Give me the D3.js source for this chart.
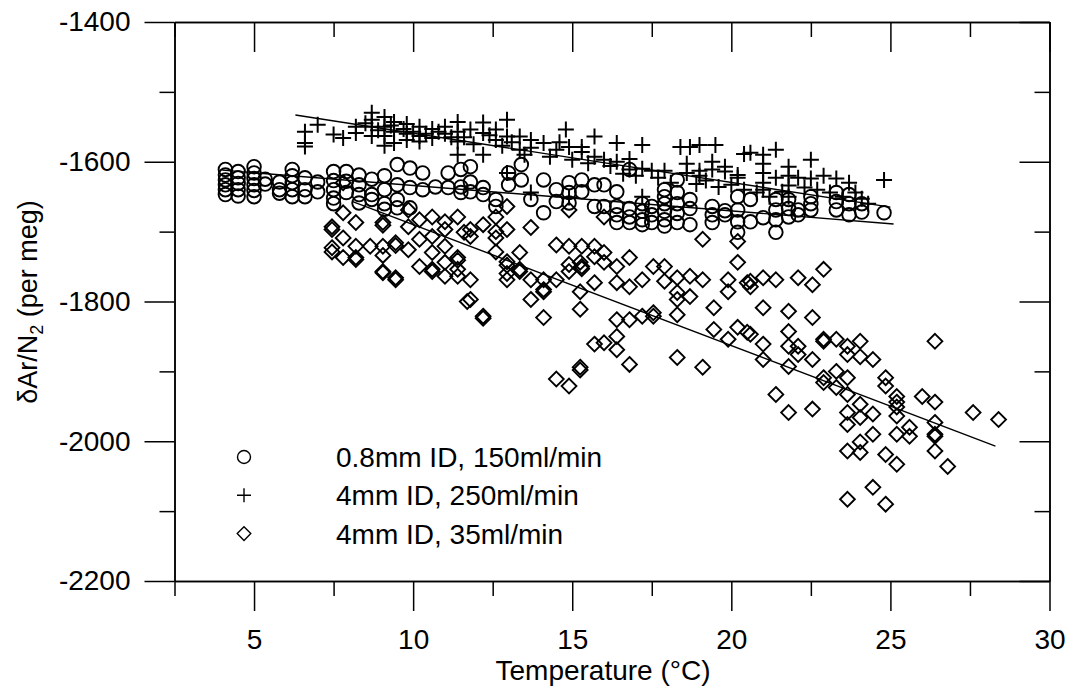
<!DOCTYPE html>
<html>
<head>
<meta charset="utf-8">
<script src="https://cdn.jsdelivr.net/npm/d3@7"></script>
<style>
  body { margin: 0; background: #fff; }
  svg text { font-family: "Liberation Sans", Arial, sans-serif; fill: #000; }
</style>
</head>
<body>
<svg id="chart" width="1067" height="686"></svg>
<script>
// series: [temperature (°C), dAr/N2 (per meg)]
var circleData = [
  [4.1,-1611],[4.1,-1619],[4.1,-1626],[4.1,-1633],[4.1,-1640],[4.1,-1647],
  [4.5,-1614],[4.5,-1623],[4.5,-1631],[4.5,-1640],[4.5,-1649],
  [5.0,-1607],[5.0,-1616],[5.0,-1624],[5.0,-1633],[5.0,-1641],[5.0,-1650],
  [5.35,-1625],[5.35,-1632],[5.8,-1629],[5.8,-1640],[5.8,-1645],
  [6.2,-1611],[6.2,-1620],[6.2,-1630],[6.2,-1640],[6.2,-1650],
  [6.6,-1623],[6.6,-1640],[6.6,-1650],[7.0,-1629],[7.0,-1643],
  [7.5,-1614],[7.5,-1627],[7.5,-1640],[7.5,-1652],[7.5,-1660],
  [7.9,-1614],[7.9,-1628],[7.9,-1644],
  [8.3,-1619],[8.3,-1633],[8.3,-1647],[8.3,-1659],
  [8.7,-1625],[8.7,-1647],[8.7,-1654],
  [9.1,-1620],[9.1,-1640],[9.1,-1660],[9.1,-1668],
  [9.5,-1604],[9.5,-1633],[9.5,-1654],[9.5,-1666],
  [9.9,-1609],[9.9,-1637],[9.9,-1666],
  [10.3,-1616],[10.3,-1640],[10.7,-1636],[11.1,-1616],[11.1,-1637],
  [11.5,-1611],[11.5,-1636],[11.5,-1644],
  [11.8,-1607],[11.8,-1629],[11.8,-1643],
  [12.2,-1637],[12.2,-1647],[12.6,-1654],[12.6,-1664],
  [13.0,-1616],[13.0,-1633],[13.4,-1604],[13.4,-1626],[13.7,-1654],
  [14.1,-1626],[14.1,-1673],[14.5,-1640],[14.5,-1657],
  [14.9,-1630],[14.9,-1644],[14.9,-1659],[15.3,-1626],[15.3,-1643],
  [15.7,-1633],[15.7,-1664],[16.0,-1633],[16.0,-1664],
  [16.4,-1643],[16.4,-1664],[16.4,-1676],[16.4,-1687],
  [16.8,-1611],[16.8,-1667],[16.8,-1679],[16.8,-1687],
  [17.2,-1660],[17.2,-1671],[17.2,-1683],[17.2,-1690],
  [17.5,-1664],[17.5,-1676],[17.5,-1687],
  [17.9,-1640],[17.9,-1650],[17.9,-1660],[17.9,-1671],[17.9,-1683],[17.9,-1692],
  [18.3,-1626],[18.3,-1644],[18.3,-1660],[18.3,-1674],[18.3,-1687],
  [18.7,-1654],[18.7,-1667],[18.7,-1690],
  [19.4,-1664],[19.4,-1676],[19.4,-1687],[19.8,-1670],[19.8,-1676],
  [20.2,-1650],[20.2,-1669],[20.2,-1686],[20.2,-1701],
  [20.6,-1654],[20.6,-1686],[21.0,-1680],
  [21.4,-1654],[21.4,-1669],[21.4,-1683],[21.4,-1701],
  [21.8,-1654],[21.8,-1667],[21.8,-1679],[22.1,-1669],[22.1,-1676],
  [22.5,-1650],[22.5,-1660],[22.5,-1669],
  [23.3,-1644],[23.3,-1657],[23.3,-1669],
  [23.7,-1647],[23.7,-1660],[23.7,-1676],
  [24.1,-1660],[24.1,-1672],[24.8,-1673]
];
var plusData = [
  [6.6,-1557],[6.6,-1573],[6.6,-1578],[7.0,-1547],[7.5,-1561],[7.8,-1566],
  [8.2,-1550],[8.2,-1559],[8.7,-1530],[8.7,-1540],[8.7,-1550],[8.7,-1563],
  [9.1,-1536],[9.1,-1550],[9.1,-1563],[9.1,-1577],
  [9.4,-1543],[9.4,-1557],[9.4,-1573],[9.8,-1546],[9.8,-1560],[9.8,-1569],
  [10.2,-1550],[10.2,-1563],[10.2,-1571],[10.6,-1553],[10.6,-1566],
  [11.0,-1550],[11.0,-1560],[11.4,-1543],[11.4,-1557],[11.4,-1571],[11.4,-1590],
  [11.8,-1554],[12.2,-1544],[12.2,-1559],[12.2,-1590],[12.6,-1554],[12.6,-1569],
  [12.95,-1540],[12.95,-1564],[12.95,-1616],[13.35,-1564],[13.35,-1583],
  [13.7,-1569],[13.7,-1580],[13.7,-1644],[14.1,-1573],[14.5,-1583],[14.8,-1554],
  [14.9,-1579],[14.9,-1651],[15.3,-1579],[15.3,-1586],[15.7,-1564],[15.7,-1593],
  [16.0,-1597],[16.4,-1573],[16.4,-1600],[16.8,-1596],[16.8,-1611],
  [17.2,-1576],[17.2,-1610],[17.2,-1650],[17.5,-1613],[17.9,-1613],
  [18.4,-1579],[18.7,-1579],[18.6,-1603],[18.6,-1616],
  [19.0,-1576],[19.0,-1613],[19.0,-1620],[19.4,-1600],[19.4,-1611],[19.5,-1576],
  [19.8,-1607],[19.8,-1614],[20.2,-1619],[20.2,-1623],[20.4,-1589],[20.6,-1587],
  [21.0,-1590],[21.0,-1603],[21.0,-1616],[21.0,-1630],[21.0,-1640],
  [21.4,-1583],[21.4,-1623],[21.8,-1607],[21.8,-1620],[21.8,-1634],[21.8,-1650],
  [22.1,-1623],[22.5,-1597],[22.5,-1624],[22.9,-1620],[23.3,-1624],
  [23.7,-1630],[24.1,-1653],[24.8,-1626],
  [8.5,-1545],[8.9,-1555],[9.3,-1548],[9.7,-1553],[10.0,-1557],[10.4,-1560],
  [10.8,-1557],[11.2,-1565],[11.6,-1565],[11.9,-1575],[12.4,-1562],[12.8,-1577],
  [13.1,-1572],[13.5,-1590],[14.3,-1593],[14.6,-1572],[15.0,-1597],[15.5,-1602],
  [16.2,-1606],[16.6,-1617],[17.0,-1620],[17.7,-1623],[18.1,-1630],[18.9,-1632],
  [19.2,-1627],[19.6,-1636],[20.0,-1633],[20.4,-1640],[20.8,-1644],[21.2,-1650],
  [21.6,-1643],[22.3,-1637],[22.7,-1640],[23.1,-1644],[23.5,-1650],[23.9,-1644],
  [24.3,-1660]
];
var diamondData = [
  [7.8,-1630],[7.8,-1673],[7.45,-1693],[7.45,-1697],[8.2,-1687],[7.8,-1709],
  [7.45,-1723],[7.8,-1737],[8.2,-1721],[8.2,-1737],[8.65,-1721],
  [9.05,-1687],[9.05,-1691],[9.05,-1721],[9.05,-1734],[9.05,-1757],
  [9.45,-1716],[9.45,-1720],[9.45,-1766],[9.85,-1669],[9.85,-1693],[9.85,-1726],
  [10.2,-1683],[10.2,-1711],[10.2,-1750],[10.6,-1679],[10.6,-1707],[10.6,-1730],[10.6,-1754],
  [11.0,-1686],[11.0,-1697],[11.0,-1721],[11.0,-1744],
  [11.4,-1679],[11.4,-1737],[11.4,-1741],[11.4,-1754],[11.6,-1701],
  [7.45,-1729],[8.2,-1740],[9.05,-1759],[9.45,-1769],
  [10.6,-1757],[11.0,-1764],[11.4,-1764],[11.7,-1800],
  [11.8,-1697],[11.8,-1707],[12.2,-1690],[12.6,-1679],[12.6,-1700],[12.6,-1709],
  [12.95,-1664],[12.95,-1697],[12.95,-1743],[12.95,-1748],[12.95,-1760],
  [13.35,-1730],[13.35,-1754],[13.35,-1757],[13.7,-1694],[13.7,-1769],
  [14.5,-1719],[14.9,-1669],[14.9,-1721],[14.9,-1747],
  [15.3,-1721],[15.3,-1750],[15.3,-1753],[15.7,-1721],[16.0,-1679],[16.0,-1730],
  [16.4,-1773],[16.8,-1737],[17.2,-1769],[17.55,-1750],[17.9,-1750],[18.3,-1766],[18.7,-1764],
  [19.1,-1711],[19.1,-1769],[19.9,-1769],[20.2,-1714],[20.2,-1744],
  [11.8,-1769],[11.8,-1797],[12.2,-1821],[12.2,-1824],[12.6,-1729],[12.95,-1769],
  [13.7,-1797],[14.1,-1769],[14.1,-1783],[14.1,-1786],[14.1,-1823],[14.5,-1769],[14.5,-1911],
  [14.9,-1757],[14.9,-1921],[15.25,-1744],[15.25,-1786],[15.25,-1811],[15.25,-1894],[15.25,-1898],
  [15.7,-1736],[15.7,-1773],[15.7,-1861],[16.0,-1744],[16.0,-1859],
  [16.4,-1750],[16.4,-1826],[16.4,-1850],[16.4,-1869],[16.8,-1779],[16.8,-1826],[16.8,-1890],
  [17.2,-1821],[17.55,-1816],[17.55,-1821],[17.9,-1771],[18.3,-1787],[18.3,-1797],[18.3,-1819],
  [18.3,-1880],[18.7,-1793],[19.45,-1809],[19.45,-1840],[19.9,-1786],[19.9,-1854],
  [20.2,-1837],[20.5,-1773],[20.5,-1844],
  [19.1,-1894],[20.6,-1771],[20.6,-1779],[20.6,-1847],[21.0,-1766],[21.0,-1809],[21.0,-1861],
  [21.0,-1883],[21.4,-1769],[21.4,-1933],[21.8,-1814],[21.8,-1843],[21.8,-1864],[21.8,-1893],
  [21.8,-1959],[22.1,-1766],[22.1,-1864],[22.1,-1876],[22.55,-1776],[22.55,-1823],[22.55,-1883],
  [22.55,-1954],[22.9,-1754],[22.9,-1854],[22.9,-1857],[22.9,-1909],[22.9,-1916],
  [23.3,-1854],[23.3,-1900],[23.3,-1923],[23.65,-1864],[23.65,-1876],[23.65,-1909],[23.65,-1933],
  [23.65,-1959],[23.65,-1976],[23.65,-2014],[23.65,-2083],
  [24.05,-1857],[24.05,-1879],[24.05,-1947],[24.05,-1966],[24.05,-2001],[24.05,-2016],
  [24.45,-1883],[24.45,-1961],[24.45,-1990],[24.45,-2066],
  [24.85,-1909],[24.85,-1921],[24.85,-2019],[24.85,-2090],
  [25.2,-1936],[25.2,-1944],[25.2,-1951],[25.2,-1964],[25.2,-1990],[25.2,-2033],
  [25.6,-1980],[25.6,-1993],[26.0,-1936],[26.4,-1857],[26.4,-1944],[26.4,-1973],
  [26.4,-1990],[26.4,-1993],[26.4,-2014],[26.8,-2036],[27.6,-1959],[28.4,-1969]
];
// straight fits drawn through each group (end points)
var circleFit = [[4.0,-1612],[25.1,-1689]];
var plusFit = [[6.3,-1533],[25.0,-1665]];
var diamondFit = [[8.1,-1657],[28.3,-2007]];

var xMajor = [5, 10, 15, 20, 25, 30];
var xMinor = [2.5, 7.5, 12.5, 17.5, 22.5, 27.5];
var yMajor = [-2200, -2000, -1800, -1600, -1400];
var yMinor = [-2100, -1900, -1700, -1500];
var legendLabels = ['0.8mm ID, 150ml/min', '4mm ID, 250ml/min', '4mm ID, 35ml/min'];

var svg = d3.select('#chart');
var L = 174.5, R = 1049.5, T = 22, B = 581;
var x = d3.scaleLinear().domain([2.5, 30]).range([L, R]);
var y = d3.scaleLinear().domain([-2200, -1400]).range([B, T]);

var fs = 28;
var plain = d => String(d);   // hyphen minus, like the original

function styleAxis(g) {
    g.selectAll('path, line').attr('stroke', '#000').attr('stroke-width', 1.5);
    g.selectAll('text').attr('font-size', fs).attr('font-family', '"Liberation Sans", Arial, sans-serif');
}

// bottom
svg.append('g').attr('transform', 'translate(0,' + B + ')')
    .call(d3.axisBottom(x).tickValues(xMajor).tickSize(30).tickSizeOuter(0).tickPadding(18).tickFormat(plain))
    .call(styleAxis);
svg.append('g').attr('transform', 'translate(0,' + B + ')')
    .call(d3.axisBottom(x).tickValues(xMinor).tickSize(15).tickSizeOuter(0).tickFormat(''))
    .call(styleAxis);
// top (inward)
svg.append('g').attr('transform', 'translate(0,' + T + ')')
    .call(d3.axisBottom(x).tickValues(xMajor).tickSize(30).tickSizeOuter(0).tickFormat(''))
    .call(styleAxis);
svg.append('g').attr('transform', 'translate(0,' + T + ')')
    .call(d3.axisBottom(x).tickValues(xMinor).tickSize(15).tickSizeOuter(0).tickFormat(''))
    .call(styleAxis);
// left
svg.append('g').attr('transform', 'translate(' + L + ',0)')
    .call(d3.axisLeft(y).tickValues(yMajor).tickSize(30).tickSizeOuter(0).tickPadding(14).tickFormat(plain))
    .call(styleAxis);
svg.append('g').attr('transform', 'translate(' + L + ',0)')
    .call(d3.axisLeft(y).tickValues(yMinor).tickSize(15).tickSizeOuter(0).tickFormat(''))
    .call(styleAxis);
// right (inward)
svg.append('g').attr('transform', 'translate(' + R + ',0)')
    .call(d3.axisLeft(y).tickValues(yMajor).tickSize(30).tickSizeOuter(0).tickFormat(''))
    .call(styleAxis);
svg.append('g').attr('transform', 'translate(' + R + ',0)')
    .call(d3.axisLeft(y).tickValues(yMinor).tickSize(15).tickSizeOuter(0).tickFormat(''))
    .call(styleAxis);

// axis titles
svg.append('text')
    .attr('x', (L + R) / 2 - 9).attr('y', 680)
    .attr('text-anchor', 'middle').attr('font-size', fs)
    .text('Temperature (°C)');

var yt = svg.append('text')
    .attr('transform', 'translate(37,302) rotate(-90)')
    .attr('text-anchor', 'middle').attr('font-size', fs - 1);
yt.append('tspan').text('δAr/N');
yt.append('tspan').attr('font-size', 18).attr('dy', 6).text('2');
yt.append('tspan').attr('dy', -6).text(' (per meg)');

// marker shapes
var plusPath = function (s) { return 'M' + (-s) + ',0H' + s + 'M0,' + (-s) + 'V' + s; };
var diamondPath = function (s) { return 'M0,' + (-s) + 'L' + s + ',0L0,' + s + 'L' + (-s) + ',0Z'; };

var line = d3.line().x(d => x(d[0])).y(d => y(d[1]));
var fits = [circleFit, plusFit, diamondFit];

svg.append('g').selectAll('circle').data(circleData).enter().append('circle')
    .attr('cx', d => x(d[0])).attr('cy', d => y(d[1])).attr('r', 6.8)
    .attr('fill', 'none').attr('stroke', '#000').attr('stroke-width', 1.9);

svg.append('g').selectAll('path').data(plusData).enter().append('path')
    .attr('transform', d => 'translate(' + x(d[0]) + ',' + y(d[1]) + ')')
    .attr('d', plusPath(8))
    .attr('fill', 'none').attr('stroke', '#000').attr('stroke-width', 2);

svg.append('g').selectAll('path').data(diamondData).enter().append('path')
    .attr('transform', d => 'translate(' + x(d[0]) + ',' + y(d[1]) + ')')
    .attr('d', diamondPath(7.4))
    .attr('fill', 'none').attr('stroke', '#000').attr('stroke-width', 1.9);

svg.append('g').selectAll('path').data(fits).enter().append('path')
    .attr('d', line).attr('fill', 'none').attr('stroke', '#000').attr('stroke-width', 1.4);

// legend
var lg = svg.append('g');
legendLabels.forEach(function (lab, i) {
    var cy = 457 + i * 38.3;
    if (i === 0) {
        lg.append('circle').attr('cx', 244).attr('cy', cy).attr('r', 6.5)
            .attr('fill', 'none').attr('stroke', '#000').attr('stroke-width', 1.4);
    } else {
        lg.append('path').attr('transform', 'translate(244,' + cy + ')')
            .attr('d', i === 1 ? plusPath(7) : diamondPath(6.8))
            .attr('fill', 'none').attr('stroke', '#000').attr('stroke-width', 1.4);
    }
    lg.append('text').attr('x', 336).attr('y', cy + 10)
        .attr('font-size', fs).text(lab);
});
</script>
</body>
</html>
